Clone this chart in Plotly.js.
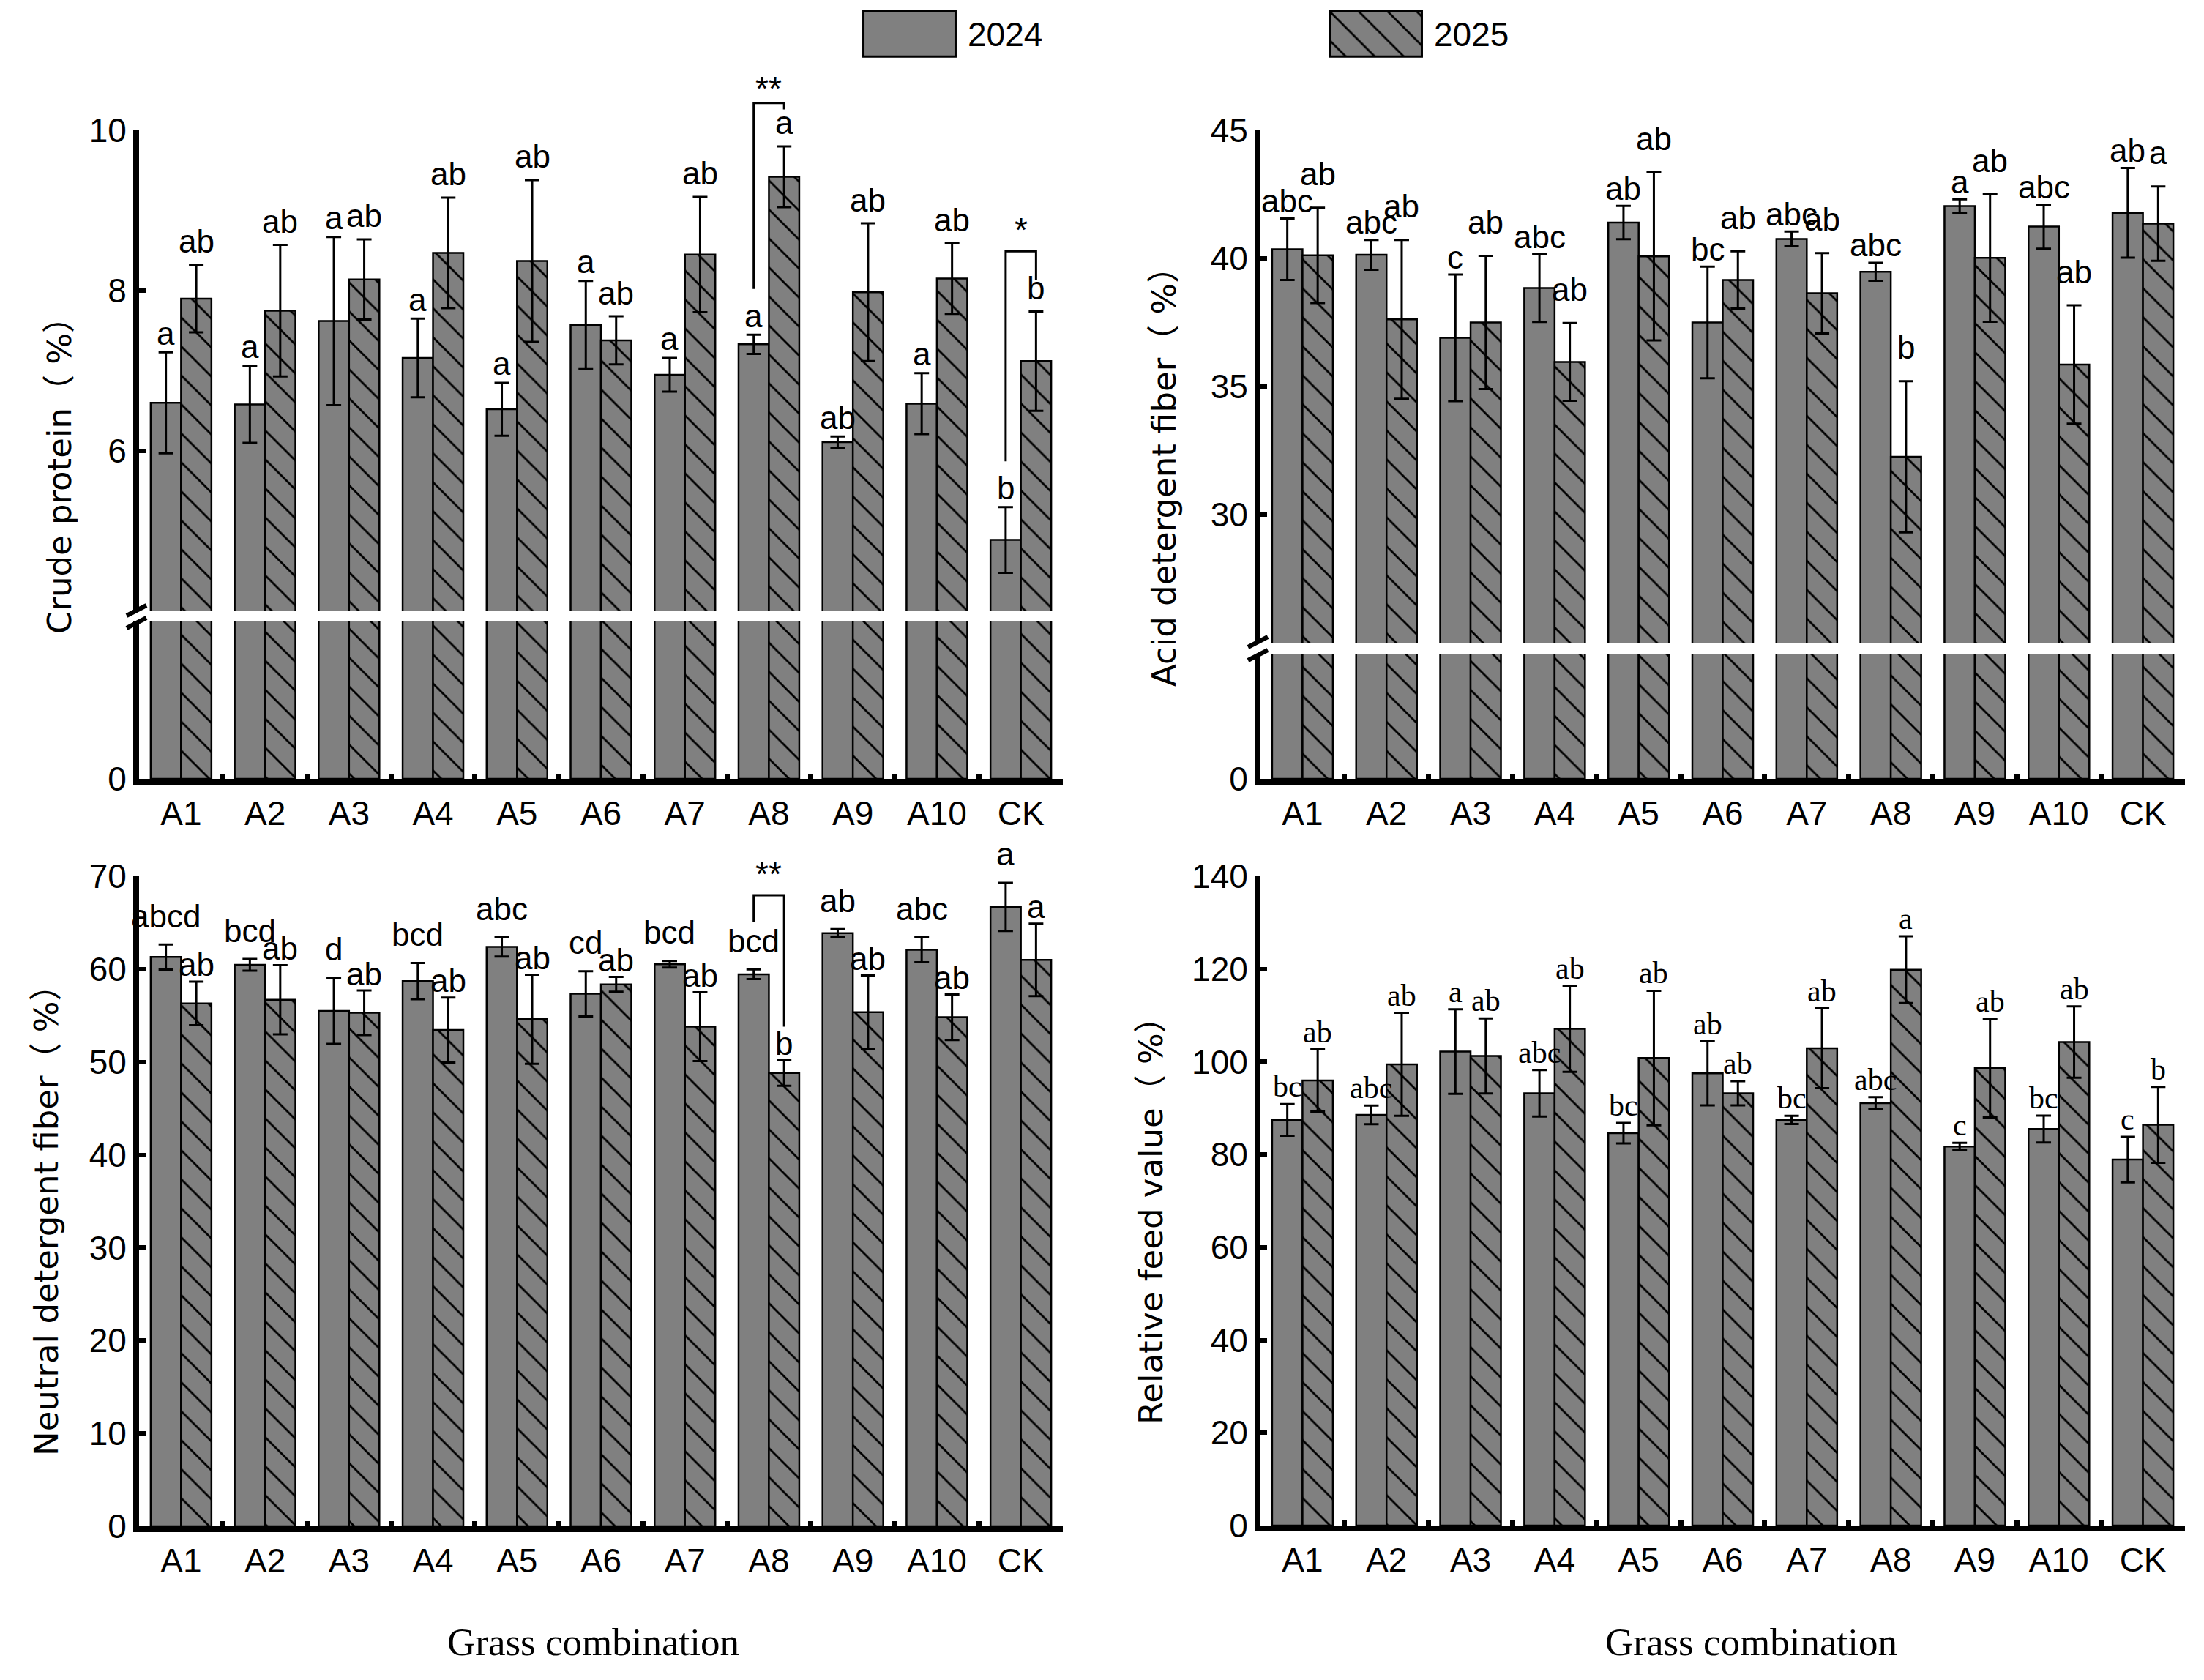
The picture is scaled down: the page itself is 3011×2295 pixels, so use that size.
<!DOCTYPE html>
<html>
<head>
<meta charset="utf-8">
<script src="https://cdn.plot.ly/plotly-3.0.1.min.js"></script>
<style>html,body{margin:0;padding:0;background:#fff;}</style>
</head>
<body>
<div id="chart" style="width:3011px;height:2295px;"></div>
<script>
// ---------------- DATA ----------------
const categories = ['A1','A2','A3','A4','A5','A6','A7','A8','A9','A10','CK'];
const years = ['2024','2025'];

// Crude protein (%)
const cp2024    = [6.60,6.58,7.62,7.16,6.52,7.57,6.95,7.33,6.11,6.59,4.89];
const cp2024Err = [0.63,0.48,1.05,0.49,0.33,0.55,0.21,0.12,0.07,0.38,0.41];
const cp2025    = [7.90,7.75,8.14,8.47,8.37,7.38,8.45,9.42,7.98,8.15,7.12];
const cp2025Err = [0.42,0.82,0.50,0.69,1.01,0.30,0.72,0.38,0.86,0.44,0.62];
const cp2024Sig = ['a','a','a','a','a','a','a','a','ab','a','b'];
const cp2025Sig = ['ab','ab','ab','ab','ab','ab','ab','a','ab','ab','b'];

// Acid detergent fiber (%)
const adf2024    = [40.36,40.14,36.90,38.84,41.40,37.50,40.76,39.48,42.04,41.24,41.78];
const adf2024Err = [1.20,0.58,2.47,1.32,0.65,2.18,0.29,0.35,0.27,0.86,1.75];
const adf2025    = [40.12,37.62,37.50,35.96,40.08,39.16,38.64,32.26,40.02,35.86,41.36];
const adf2025Err = [1.86,3.10,2.60,1.52,3.28,1.12,1.57,2.95,2.49,2.31,1.45];
const adf2024Sig = ['abc','abc','c','abc','ab','bc','abc','abc','a','abc','ab'];
const adf2025Sig = ['ab','ab','ab','ab','ab','ab','ab','b','ab','ab','a'];

// Neutral detergent fiber (%)
const ndf2024    = [61.30,60.46,55.50,58.70,62.40,57.34,60.52,59.44,63.88,62.08,66.70];
const ndf2024Err = [1.35,0.63,3.55,1.95,1.05,2.43,0.36,0.52,0.42,1.35,2.60];
const ndf2025    = [56.30,56.70,55.30,53.44,54.60,58.36,53.80,48.82,55.36,54.82,61.00];
const ndf2025Err = [2.35,3.73,2.40,3.50,4.80,0.80,3.70,1.38,3.95,2.45,3.90];
const ndf2024Sig = ['abcd','bcd','d','bcd','abc','cd','bcd','bcd','ab','abc','a'];
const ndf2025Sig = ['ab','ab','ab','ab','ab','ab','ab','b','ab','ab','a'];

// Relative feed value (%)
const rfv2024    = [87.46,88.54,102.2,93.2,84.6,97.5,87.46,91.06,81.7,85.5,78.9];
const rfv2024Err = [3.4,2.0,9.1,5.0,2.2,6.9,0.9,1.3,0.8,2.9,4.9];
const rfv2025    = [95.97,99.45,101.25,107.1,100.8,93.2,102.9,119.85,98.6,104.25,86.4];
const rfv2025Err = [6.7,11.1,8.1,9.3,14.5,2.6,8.6,7.2,10.6,7.7,8.2];
const rfv2024Sig = ['bc','abc','a','abc','bc','ab','bc','abc','c','bc','c'];
const rfv2025Sig = ['ab','ab','ab','ab','ab','ab','ab','a','ab','ab','b'];

// Year-to-year significance brackets
const cpBrackets  = [
  {cat:'A8', leftFrom:8.02, top:10.34, rightTo:10.26, mark:'**', markY:10.52},
  {cat:'CK', leftFrom:5.87, top:8.49,  rightTo:8.13,  mark:'*',  markY:8.76}
];
const ndfBrackets = [
  {cat:'A8', leftFrom:65.08, top:67.96, rightTo:53.8, mark:'**', markY:70.2}
];

const yTitles = ['Crude protein（ %）','Acid detergent fiber（ %）','Neutral detergent fiber（ %）','Relative feed value（ %）'];
const xTitle = 'Grass combination';

// ---------------- STYLE / GEOMETRY ----------------
const W = 3011, H = 2295;
const px = v => v / W;
const py = v => 1 - v / H;
const SANS = 'Liberation Sans, Arial, sans-serif';
const TITLEFONT = 'DejaVu Sans, Noto Sans CJK SC, sans-serif';
const SERIF = 'Liberation Serif, Times New Roman, serif';
const GRAY = '#808080';
const BARGAP = 0.277;
const OFF = (1 - BARGAP) / 4;
const hatch = {shape:'\\', fgcolor:'#000000', bgcolor:GRAY, size:28, solidity:0.1, fillmode:'replace'};

const panels = [
  {v:[cp2024,cp2025], e:[cp2024Err,cp2025Err], s:[cp2024Sig,cp2025Sig], br:cpBrackets,
   xa:'x', xDom:[190,1452],
   upper:{ya:'y2', dom:[178,835], range:[4,10], tickvals:[6,8,10]},
   lower:{ya:'y', dom:[849,1064], range:[0,4]},
   shift:[26,32], sigFont:SANS, sigSize:44, title:yTitles[0], titleX:81, titleY:638},
  {v:[adf2024,adf2025], e:[adf2024Err,adf2025Err], s:[adf2024Sig,adf2025Sig], br:[],
   xa:'x2', xDom:[1722,2985],
   upper:{ya:'y4', dom:[178,878], range:[25,45], tickvals:[30,35,40,45]},
   lower:{ya:'y3', dom:[893,1064], range:[0,5]},
   shift:[24,46], sigFont:SANS, sigSize:44, title:yTitles[1], titleX:1591, titleY:640},
  {v:[ndf2024,ndf2025], e:[ndf2024Err,ndf2025Err], s:[ndf2024Sig,ndf2025Sig], br:ndfBrackets,
   xa:'x3', xDom:[190,1452],
   upper:{ya:'y5', dom:[1197,2085], range:[0,70], tickvals:[0,10,20,30,40,50,60,70]},
   lower:null,
   shift:[39,23], sigFont:SANS, sigSize:44, title:yTitles[2], titleX:63, titleY:1656},
  {v:[rfv2024,rfv2025], e:[rfv2024Err,rfv2025Err], s:[rfv2024Sig,rfv2025Sig], br:[],
   xa:'x4', xDom:[1722,2985],
   upper:{ya:'y6', dom:[1197,2084], range:[0,140], tickvals:[0,20,40,60,80,100,120,140]},
   lower:null,
   shift:[24,24], sigFont:SERIF, sigSize:42, title:yTitles[3], titleX:1572, titleY:1656}
];

const data = [];
const annotations = [];
const shapes = [];
const layout = {
  width: W, height: H,
  margin: {l:0, r:0, t:0, b:0},
  paper_bgcolor: '#ffffff', plot_bgcolor: 'rgba(0,0,0,0)',
  showlegend: false,
  barmode: 'group', bargap: BARGAP, bargroupgap: 0,
  font: {family: SANS, size: 46, color: '#000'},
  annotations: annotations, shapes: shapes
};

function yAxisStyle(extra) {
  return Object.assign({
    showline: true, linecolor: '#000', linewidth: 8,
    ticks: 'inside', ticklen: 9, tickwidth: 6, tickcolor: '#000',
    showgrid: false, zeroline: false, fixedrange: true,
    tickfont: {family: SANS, size: 46, color: '#000'},
    tickmode: 'array'
  }, extra);
}

function barTrace(p, yr, ya, withErr) {
  const t = {
    type: 'bar', x: categories, y: p.v[yr], name: years[yr],
    xaxis: p.xa, yaxis: ya,
    marker: {color: GRAY, line: {color: '#000', width: 2.5}},
    hoverinfo: 'skip', showlegend: false
  };
  if (yr === 1) t.marker.pattern = hatch;
  if (withErr) {
    t.error_y = {type: 'data', array: p.e[yr], visible: true, color: '#000', thickness: 3, width: 10};
  }
  return t;
}

function yToPaper(seg, v) {
  const [top, bot] = seg.dom;
  const [r0, r1] = seg.range;
  return py(bot - (v - r0) / (r1 - r0) * (bot - top));
}
function xToPaper(p, idx) {
  const [l, r] = p.xDom;
  return px(l + (idx + 0.5) / categories.length * (r - l));
}

panels.forEach((p, k) => {
  const xNum = p.xa === 'x' ? '' : p.xa.slice(1);
  const mainY = p.lower ? p.lower.ya : p.upper.ya;
  layout['xaxis' + xNum] = {
    domain: [px(p.xDom[0]), px(p.xDom[1])], anchor: mainY,
    type: 'category', range: [-0.5, categories.length - 0.5],
    showline: true, linecolor: '#000', linewidth: 8,
    ticks: 'inside', tickson: 'boundaries', ticklen: 7, tickwidth: 7, tickcolor: '#000',
    showgrid: false, zeroline: false, fixedrange: true,
    tickfont: {family: SANS, size: 46, color: '#000'}
  };
  const uNum = p.upper.ya.slice(1);
  layout['yaxis' + uNum] = yAxisStyle({
    domain: [py(p.upper.dom[1]), py(p.upper.dom[0])], anchor: p.xa,
    range: p.upper.range, tickvals: p.upper.tickvals
  });
  if (p.lower) {
    const lNum = p.lower.ya === 'y' ? '' : p.lower.ya.slice(1);
    layout['yaxis' + lNum] = yAxisStyle({
      domain: [py(p.lower.dom[1]), py(p.lower.dom[0])], anchor: p.xa,
      range: p.lower.range, tickvals: [0]
    });
    data.push(barTrace(p, 0, p.lower.ya, false));
    data.push(barTrace(p, 1, p.lower.ya, false));
    // axis break marks
    const ax = p.xDom[0] - 4;
    [p.upper.dom[1] - 1, p.lower.dom[0] + 2].forEach(yy => {
      shapes.push({type: 'line', xref: 'paper', yref: 'paper',
        x0: px(ax - 13), y0: py(yy + 7), x1: px(ax + 14), y1: py(yy - 7),
        line: {color: '#000', width: 6}});
    });
  }
  data.push(barTrace(p, 0, p.upper.ya, true));
  data.push(barTrace(p, 1, p.upper.ya, true));

  // significance letters
  for (let yr = 0; yr < 2; yr++) {
    categories.forEach((c, i) => {
      annotations.push({
        xref: p.xa, yref: p.upper.ya,
        x: i + (yr === 0 ? -OFF : OFF), y: p.v[yr][i] + p.e[yr][i],
        text: p.s[yr][i], showarrow: false,
        xanchor: 'center', yanchor: 'middle', yshift: p.shift[yr],
        font: {family: p.sigFont, size: p.sigSize, color: '#000'}
      });
    });
  }

  // brackets between years
  p.br.forEach(b => {
    const i = categories.indexOf(b.cat);
    const xl = xToPaper(p, i - OFF), xr = xToPaper(p, i + OFF);
    const yL = yToPaper(p.upper, b.leftFrom), yT = yToPaper(p.upper, b.top), yR = yToPaper(p.upper, b.rightTo);
    shapes.push({type: 'path', xref: 'paper', yref: 'paper',
      path: `M${xl},${yL} L${xl},${yT} L${xr},${yT} L${xr},${yR}`,
      line: {color: '#000', width: 3}});
    annotations.push({xref: 'paper', yref: 'paper', x: xToPaper(p, i), y: yToPaper(p.upper, b.markY),
      text: b.mark, showarrow: false, xanchor: 'center', yanchor: 'middle',
      font: {family: SANS, size: 46, color: '#000'}});
  });

  // y title
  annotations.push({xref: 'paper', yref: 'paper', x: px(p.titleX), y: py(p.titleY),
    text: p.title, textangle: -90, showarrow: false, xanchor: 'center', yanchor: 'middle',
    font: {family: TITLEFONT, size: 45, color: '#000'}});
});

// x titles
[[810, 2243], [2392, 2243]].forEach(([x, y]) => {
  annotations.push({xref: 'paper', yref: 'paper', x: px(x), y: py(y), text: xTitle,
    showarrow: false, xanchor: 'center', yanchor: 'middle',
    font: {family: SERIF, size: 53, color: '#000'}});
});

// legend keys drawn as small one-bar subplots
const legendBoxes = [[1177, 1308], [1814, 1945]];
years.forEach((yrName, k) => {
  const xn = 5 + k, yn = 7 + k;
  layout['xaxis' + xn] = {domain: [px(legendBoxes[k][0]), px(legendBoxes[k][1])], anchor: 'y' + yn,
    type: 'category', range: [-0.52, 0.52], visible: false, fixedrange: true};
  layout['yaxis' + yn] = {domain: [py(79), py(13)], anchor: 'x' + xn,
    range: [-0.03, 1.03], visible: false, fixedrange: true};
  const t = {type: 'bar', x: [yrName], y: [1], width: [1], xaxis: 'x' + xn, yaxis: 'y' + yn,
    marker: {color: GRAY, line: {color: '#000', width: 3}}, hoverinfo: 'skip', showlegend: false};
  if (k === 1) t.marker.pattern = hatch;
  data.push(t);
  annotations.push({xref: 'paper', yref: 'paper', x: px(legendBoxes[k][1] + 12), y: py(47),
    text: yrName, showarrow: false, xanchor: 'left', yanchor: 'middle',
    font: {family: SANS, size: 46, color: '#000'}});
});

Plotly.newPlot('chart', data, layout, {displayModeBar: false, staticPlot: true});
</script>
</body>
</html>
